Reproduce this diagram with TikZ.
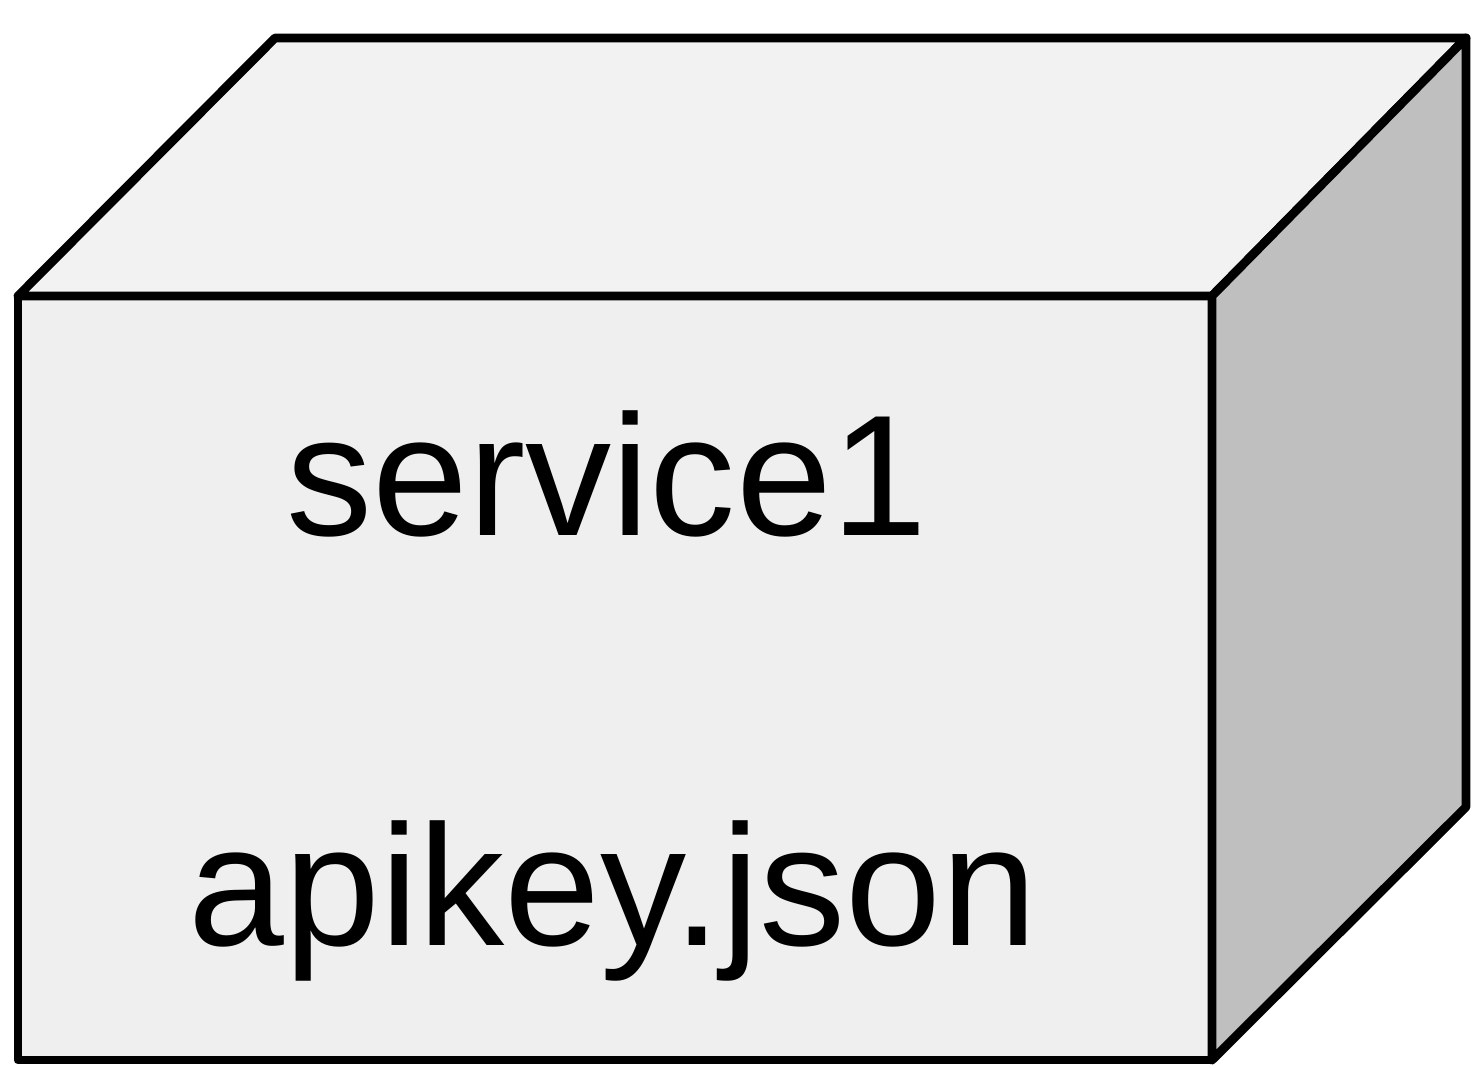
\documentclass[tikz,border=0pt]{standalone}
\usepackage{fontspec}
\setmainfont{Liberation Sans}
\definecolor{facefront}{HTML}{EFEFEF}
\definecolor{facetop}{HTML}{F2F2F2}
\definecolor{faceside}{HTML}{BFBFBF}
\begin{document}
\begin{tikzpicture}[line width=2.5pt,line join=round,every node/.style={font=\fontsize{49}{55}\selectfont}]
\useasboundingbox (0,0) rectangle (14.84,10.67);
% box faces: front, top, right side
\filldraw[fill=facefront] (0.18,0.07) rectangle (12.12,7.71);
\filldraw[fill=facetop] (0.18,7.71) -- (2.75,10.29) -- (14.66,10.29) -- (12.12,7.71) -- cycle;
\filldraw[fill=faceside] (12.12,0.07) -- (14.66,2.6) -- (14.66,10.29) -- (12.12,7.71) -- cycle;
\node[anchor=base] (svc) at (6.07,5.32) {service1};
\node[anchor=base] (key) at (6.13,1.22) {apikey.json};
\end{tikzpicture}
\end{document}
